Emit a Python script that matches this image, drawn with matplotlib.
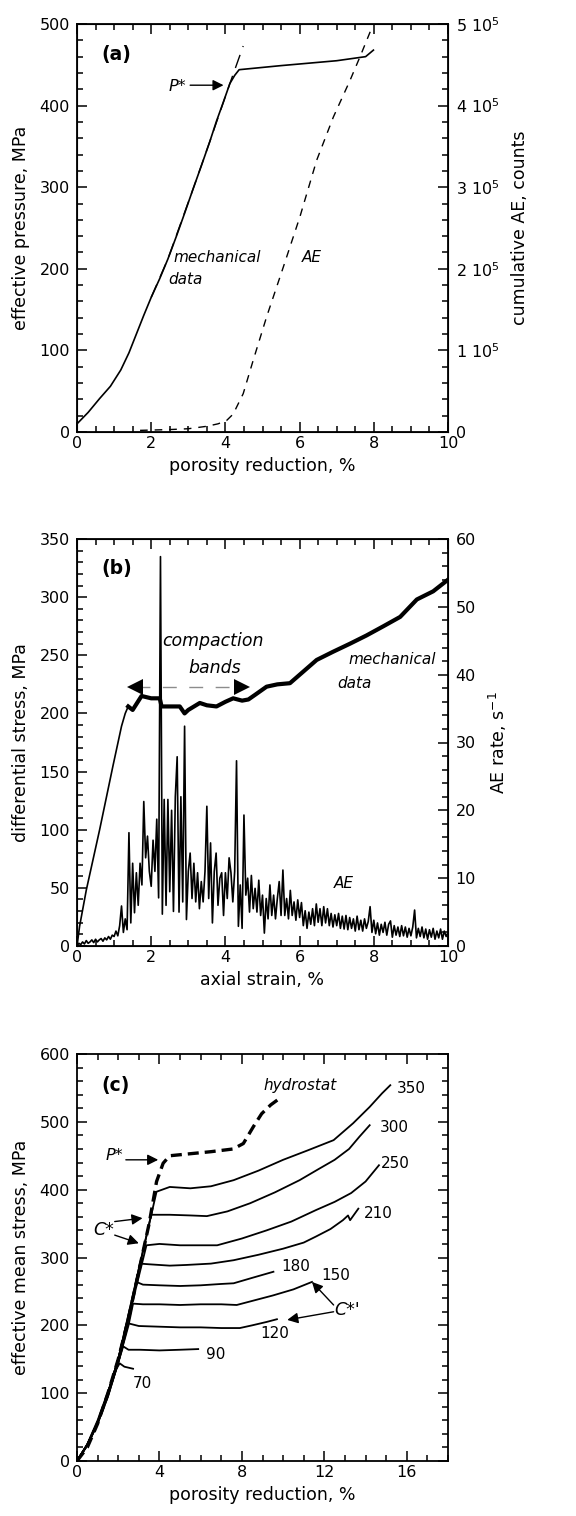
import numpy as np
import matplotlib
matplotlib.use("Agg")
import matplotlib.pyplot as plt
from matplotlib.ticker import MultipleLocator, FixedLocator, FixedFormatter

plt.rcParams['font.family'] = ['DejaVu Sans']
plt.rcParams['mathtext.default'] = 'regular'

# ---------------- panel (a) data ----------------
a_por = [0, 0.3, 0.61, 0.9, 1.18, 1.4, 1.6, 1.8, 2.0, 2.23, 2.45, 2.68, 2.9, 3.13, 3.35,
         3.58, 3.76, 3.95, 4.12, 4.25, 4.37, 5.5, 6.5, 7.0, 7.78, 7.99]
a_pres = [10, 24, 41, 56, 76, 97, 120, 143, 165, 188, 212, 240, 268, 298, 326,
          356, 381, 405, 427, 437, 444, 449, 453, 455, 460, 468]
a_fit_por = [2.0, 2.45, 3.13, 3.58, 4.12, 4.48]
a_fit_pres = [165, 212, 298, 356, 427, 473]
a_ae_por = [1.7, 2.5, 3.0, 3.5, 3.8, 4.03, 4.21, 4.48, 4.75, 5.11, 5.56, 6.01,
            6.46, 6.91, 7.36, 7.63, 7.97]
a_ae_counts = [0.02, 0.03, 0.04, 0.07, 0.1, 0.14, 0.22, 0.47, 0.88, 1.41, 2.02, 2.64,
               3.33, 3.86, 4.31, 4.6, 4.98]  # x 1e5

# ---------------- panel (b) data ----------------
b_strain = [0, 0.07, 0.25, 0.61, 0.97, 1.2, 1.3, 1.38, 1.5, 1.6, 1.74, 2.0, 2.23, 2.28,
            2.5, 2.77, 2.9, 3.0, 3.31, 3.5, 3.76, 4.0, 4.21, 4.45, 4.62, 4.8, 5.11,
            5.4, 5.74, 6.1, 6.46, 6.9, 7.36, 7.8, 8.26, 8.71, 9.16, 9.6, 10]
b_stress = [0, 17, 48, 100, 155, 189, 200, 206, 203, 208, 215, 213, 213, 206,
            206, 206, 200, 203, 209, 207, 206, 210, 213, 211, 212, 216, 223,
            225, 226, 236, 246, 253, 260, 267, 275, 283, 298, 305, 315]

# AE rate (s^-1), sampled every 0.05 % strain from 0 to 10 %
ae_strain = np.linspace(0, 10, 201)
ae_rate = [0, 0.4, 0.2, 0.6, 0.3, 0.8, 0.4, 0.6, 0.9, 0.5, 1.0, 0.6, 0.9, 1.1, 0.7, 1.2,
           0.9, 1.4, 1.0, 1.6, 1.4,
           2.2, 1.5, 3.0, 5.9, 2.0, 4.0, 2.4, 16.7, 3.4, 12.2,
           4.9, 10.8, 6.0, 12.2, 9.0, 21.3, 13.0, 16.2, 11.0, 8.8,
           15.6, 11.0, 18.7, 7.1, 57.4, 4.7, 21.6, 6.0, 21.6, 8.0,
           20.0, 5.1, 22.0, 27.9, 5.0, 22.0, 6.5, 32.4, 3.9, 11.0,
           13.7, 7.0, 12.2, 6.5, 10.8, 5.5, 9.5, 6.5, 11.0, 20.6,
           7.0, 15.2, 3.4, 11.0, 13.7, 6.0, 10.0, 10.8, 4.5, 10.8,
           7.0, 13.0, 10.8, 6.5, 11.0, 27.3, 2.9, 9.0, 2.6, 19.3,
           7.5, 10.0, 5.0, 10.4, 5.5, 8.5, 5.0, 9.7, 4.5, 7.5,
           1.9, 7.0, 4.0, 9.0, 4.5, 7.5, 4.0, 7.0, 9.5, 4.5,
           11.2, 4.5, 7.0, 4.0, 8.2, 4.5, 6.5, 3.8, 6.8, 4.2,
           6.4, 3.0, 5.2, 2.6, 5.0, 3.2, 5.5, 3.0, 6.2, 3.5,
           5.5, 3.0, 5.8, 3.4, 5.5, 3.0, 4.8, 2.8, 4.6, 3.0,
           4.8, 2.6, 4.4, 2.5, 4.5, 2.4, 4.2, 2.6, 4.0, 2.2,
           4.4, 2.4, 3.8, 2.2, 4.0, 2.6, 3.6, 5.8, 2.0, 3.8,
           1.8, 3.4, 1.6, 3.2, 2.0, 3.5, 1.6, 3.2, 3.7, 1.3,
           3.0, 1.6, 2.8, 1.4, 3.0, 1.5, 2.8, 1.3, 2.6, 1.5,
           2.8, 5.3, 1.2, 2.6, 1.4, 2.8, 1.2, 2.5, 1.0, 2.4,
           1.3, 2.6, 1.0, 2.2, 1.2, 2.5, 1.0, 2.2, 1.4, 2.0]

# ---------------- panel (c) data ----------------
hydro_x = [0, 0.5, 1, 1.5, 2, 2.5, 3, 3.5, 3.86, 4.18, 4.5, 5.5, 6.5, 7.58, 8.07, 8.56, 8.96, 9.4, 9.85]
hydro_y = [0, 20, 55, 100, 150, 210, 280, 350, 412, 439, 450, 453, 456, 460, 468, 493, 512, 525, 535]

c_labels = ['70', '90', '120', '150', '180', '210', '250', '300', '350']
c_x = [
    [0, 0.5, 1.0, 1.5, 1.9, 2.07, 2.3, 2.72],
    [0, 0.5, 1.0, 1.5, 2.0, 2.24, 2.5, 3.05, 4.0, 5.0, 5.88],
    [0, 0.5, 1, 1.5, 2, 2.3, 2.48, 3, 4, 5, 6, 7, 7.9, 8.5, 9.2, 9.7],
    [0, 0.5, 1, 1.5, 2, 2.5, 2.72, 3.2, 4, 5, 6, 7, 7.75, 8.5, 9.5, 10.5, 11.4],
    [0, 0.5, 1, 1.5, 2, 2.5, 2.88, 3.2, 4, 5, 6, 7, 7.6, 8.5, 9.53],
    [0, 0.5, 1, 1.5, 2, 2.6, 3.05, 3.5, 4.5, 5.3, 6.5, 7.6, 8.8, 10, 11, 11.6, 12.3,
     12.9, 13.15, 13.25, 13.65],
    [0, 0.5, 1, 1.5, 2, 2.7, 3.37, 4, 5, 6, 6.8, 8, 9.2, 10.4, 11.6, 12.5, 13.3, 14, 14.65],
    [0, 0.5, 1, 1.5, 2, 2.8, 3.6, 4.5, 5.5, 6.3, 7.3, 8.4, 9.6, 10.8, 11.7, 12.5, 13.2,
     13.7, 14.2],
    [0, 0.5, 1, 1.5, 2, 2.9, 3.86, 4.5, 5.5, 6.5, 7.6, 8.8, 10, 11.2, 12.45, 13.4, 14.2,
     14.8, 15.2],
]
c_y = [
    [0, 25, 60, 102, 135, 144, 139, 136],
    [0, 24, 56, 98, 145, 169, 164, 164, 163, 164, 165],
    [0, 23, 55, 95, 145, 180, 203, 199, 198, 197, 197, 196, 196, 200, 205, 209],
    [0, 23, 55, 95, 145, 200, 232, 231, 231, 230, 231, 231, 230, 236, 244, 253, 264],
    [0, 24, 57, 100, 150, 210, 264, 260, 259, 258, 259, 261, 262, 270, 279],
    [0, 24, 57, 100, 150, 225, 291, 290, 288, 289, 291, 296, 304, 313, 322, 331, 342,
     355, 362, 355, 372],
    [0, 24, 57, 100, 150, 235, 318, 320, 318, 318, 318, 328, 340, 353, 370, 382, 395, 412, 436],
    [0, 24, 57, 100, 150, 255, 363, 363, 362, 361, 368, 380, 396, 414, 430, 444, 460, 478, 495],
    [0, 24, 57, 100, 150, 270, 397, 404, 402, 405, 414, 428, 444, 458, 473, 498, 522, 542, 554],
]
c_label_pos = [(2.69, 114), (6.26, 157), (8.88, 188), (11.83, 274), (9.93, 286),
               (13.9, 365), (14.76, 439), (14.67, 491), (15.5, 549)]

TICK = 11.5
LAB = 12.5
NOTE = 11


def style(ax, right=True):
    ax.tick_params(which='both', direction='in', top=True, right=right, labelsize=TICK)
    ax.tick_params(which='major', length=7, width=1.1)
    ax.tick_params(which='minor', length=4, width=1.1)
    ax.tick_params(axis='y', pad=5)
    ax.tick_params(axis='x', pad=3)
    for s in ax.spines.values():
        s.set_linewidth(1.3)


def style_right(ax):
    ax.tick_params(which='both', direction='in', labelsize=TICK, pad=5.5)
    ax.tick_params(which='major', length=7, width=1.1)
    ax.tick_params(which='minor', length=4, width=1.1)


def arrow(ax, tail, head):
    ax.annotate('', xy=head, xytext=tail,
                arrowprops=dict(arrowstyle='-|>', color='k', lw=1.0,
                                mutation_scale=16, shrinkA=0, shrinkB=0))


fig = plt.figure(figsize=(5.76, 15.16), dpi=100)
W, H = 576, 1516


def add_axes(top_px, bot_px):
    return fig.add_axes([77 / W, 1 - bot_px / H, 371 / W, (bot_px - top_px) / H])


# ---------------- (a) ----------------
ax = add_axes(24, 432)
ax.plot(a_por, a_pres, color='k', lw=1.2)
ax.plot(a_fit_por, a_fit_pres, color='k', lw=1.0, ls=(0, (10, 6)))
ax.set_xlim(0, 10)
ax.set_ylim(0, 500)
ax.xaxis.set_major_locator(MultipleLocator(2))
ax.xaxis.set_minor_locator(MultipleLocator(0.5))
ax.yaxis.set_major_locator(MultipleLocator(100))
ax.yaxis.set_minor_locator(MultipleLocator(20))
style(ax, right=False)
ax.set_xlabel('porosity reduction, %', fontsize=LAB, labelpad=4)
ax.set_ylabel('effective pressure, MPa', fontsize=LAB, labelpad=7)
ax.text(0.65, 463, '(a)', fontsize=13.5, fontweight='bold', va='center')
ax.text(2.46, 423, 'P*', fontsize=NOTE + 0.5, style='italic', va='center')
arrow(ax, (3.05, 425), (3.95, 425))
ax.text(2.59, 214, 'mechanical', fontsize=NOTE, style='italic', va='center')
ax.text(2.45, 187, 'data', fontsize=NOTE, style='italic', va='center')
ax.text(6.06, 214, 'AE', fontsize=NOTE, style='italic', va='center')

ax2 = ax.twinx()
ax2.plot(a_ae_por, a_ae_counts, color='k', lw=1.0, ls=(0, (5.5, 5)))
ax2.set_ylim(0, 5)
ax2.yaxis.set_major_locator(FixedLocator([0, 1, 2, 3, 4, 5]))
ax2.yaxis.set_major_formatter(FixedFormatter(['0'] + [r'$%d\ 10^{5}$' % i for i in range(1, 6)]))
ax2.yaxis.set_minor_locator(MultipleLocator(0.2))
style_right(ax2)
ax2.set_ylabel('cumulative AE, counts', fontsize=LAB, labelpad=8)

# ---------------- (b) ----------------
bx = add_axes(539, 946)
bx.plot(b_strain[:8], b_stress[:8], color='k', lw=1.2)
bx.plot(b_strain[7:], b_stress[7:], color='k', lw=3.0)
bx.set_xlim(0, 10)
bx.set_ylim(0, 350)
bx.xaxis.set_major_locator(MultipleLocator(2))
bx.xaxis.set_minor_locator(MultipleLocator(0.5))
bx.yaxis.set_major_locator(MultipleLocator(50))
bx.yaxis.set_minor_locator(MultipleLocator(10))
style(bx, right=False)
bx.set_xlabel('axial strain, %', fontsize=LAB, labelpad=4)
bx.set_ylabel('differential stress, MPa', fontsize=LAB, labelpad=7)
bx.text(0.66, 325, '(b)', fontsize=13.5, fontweight='bold', va='center')
bx.text(3.67, 262, 'compaction', fontsize=12.5, style='italic', ha='center', va='center')
bx.text(3.72, 239, 'bands', fontsize=12.5, style='italic', ha='center', va='center')
bx.plot([1.6, 4.5], [223, 223], color='0.55', lw=1.0, ls=(0, (10, 9)))
bx.plot([1.55], [223], marker='<', color='k', ms=11, mew=0)
bx.plot([4.45], [223], marker='>', color='k', ms=11, mew=0)
bx.text(7.32, 246, 'mechanical', fontsize=NOTE, style='italic', va='center')
bx.text(7.02, 226, 'data', fontsize=NOTE, style='italic', va='center')
bx.text(6.91, 54, 'AE', fontsize=NOTE, style='italic', va='center')

bx2 = bx.twinx()
bx2.plot(ae_strain, ae_rate, color='k', lw=1.2)
bx2.set_ylim(0, 60)
bx2.yaxis.set_major_locator(MultipleLocator(10))
bx2.yaxis.set_minor_locator(MultipleLocator(2))
style_right(bx2)
bx2.set_ylabel(r'AE rate, s$^{-1}$', fontsize=LAB, labelpad=8)

# ---------------- (c) ----------------
cx = add_axes(1054, 1461)
for xs, ys in zip(c_x, c_y):
    cx.plot(xs, ys, color='k', lw=1.3)
cx.plot(hydro_x, hydro_y, color='k', lw=2.4, ls=(0, (3.3, 1.8)))
for lab, (lx, ly) in zip(c_labels, c_label_pos):
    cx.text(lx, ly, lab, fontsize=NOTE, va='center')
cx.set_xlim(0, 18)
cx.set_ylim(0, 600)
cx.xaxis.set_major_locator(MultipleLocator(4))
cx.xaxis.set_minor_locator(MultipleLocator(1))
cx.yaxis.set_major_locator(MultipleLocator(100))
cx.yaxis.set_minor_locator(MultipleLocator(20))
style(cx)
cx.set_xlabel('porosity reduction, %', fontsize=LAB, labelpad=4)
cx.set_ylabel('effective mean stress, MPa', fontsize=LAB, labelpad=7)
cx.text(1.18, 554, '(c)', fontsize=13.5, fontweight='bold', va='center')
cx.text(9.04, 554, 'hydrostat', fontsize=NOTE, style='italic', va='center')
cx.text(1.4, 451, 'P*', fontsize=NOTE + 0.5, style='italic', va='center')
arrow(cx, (2.37, 444), (3.94, 444))
cx.text(0.78, 340, 'C*', fontsize=12.5, style='italic', va='center')
arrow(cx, (1.83, 353), (3.18, 358))
arrow(cx, (1.83, 333), (3.0, 321))
cx.text(12.5, 222, "C*'", fontsize=12.5, style='italic', va='center')
arrow(cx, (12.45, 230), (11.4, 264))
arrow(cx, (12.45, 220), (10.2, 208))

fig.savefig('out.png', dpi=100)
